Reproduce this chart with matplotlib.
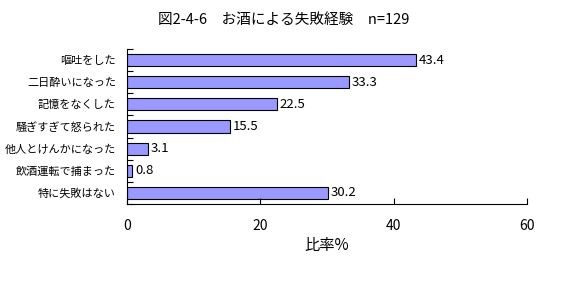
import matplotlib
matplotlib.use("Agg")
import matplotlib.pyplot as plt

plt.rcParams['font.family'] = ['Noto Sans CJK JP', 'DejaVu Sans']

categories = ["嘔吐をした", "二日酔いになった", "記憶をなくした", "騒ぎすぎて怒られた",
              "他人とけんかになった", "飲酒運転で捕まった", "特に失敗はない"]
values = [43.4, 33.3, 22.5, 15.5, 3.1, 0.8, 30.2]
xticks = [0, 20, 40, 60]
title = "図2-4-6　お酒による失敗経験　n=129"
xlabel = "比率%"

fig = plt.figure(figsize=(5.67, 2.84), dpi=100)
ax = fig.add_axes([127/567, 1-204/284, 400/567, 155/284])

y = list(range(len(categories)))
ax.barh(y, values, height=0.55, color="#9999FF", edgecolor="black", linewidth=0.8)
for yi, v in zip(y, values):
    ax.text(v + 0.4, yi, f"{v}", va="center", ha="left", fontsize=9.5)

ax.set_xlim(0, 60)
ax.set_ylim(len(categories) - 0.5, -0.5)
ax.set_xticks(xticks)
ax.set_xticklabels([str(t) for t in xticks], fontsize=10)
ax.tick_params(axis='x', direction='in', length=4, pad=11, width=0.8)

ax.set_yticks(y)
ax.set_yticklabels(categories, fontsize=8)
ax.tick_params(axis='y', length=0, pad=8)
ax.set_yticks([i - 0.5 for i in range(len(categories) + 1)], minor=True)
ax.tick_params(axis='y', which='minor', direction='in', length=4, width=0.8)

for s in ['top', 'right']:
    ax.spines[s].set_visible(False)
for s in ['left', 'bottom']:
    ax.spines[s].set_linewidth(0.8)

ax.set_xlabel(xlabel, fontsize=11, labelpad=3)
fig.text(0.5, 1-20/284, title, ha="center", va="center", fontsize=10.5)

fig.savefig("out.png", dpi=100)
